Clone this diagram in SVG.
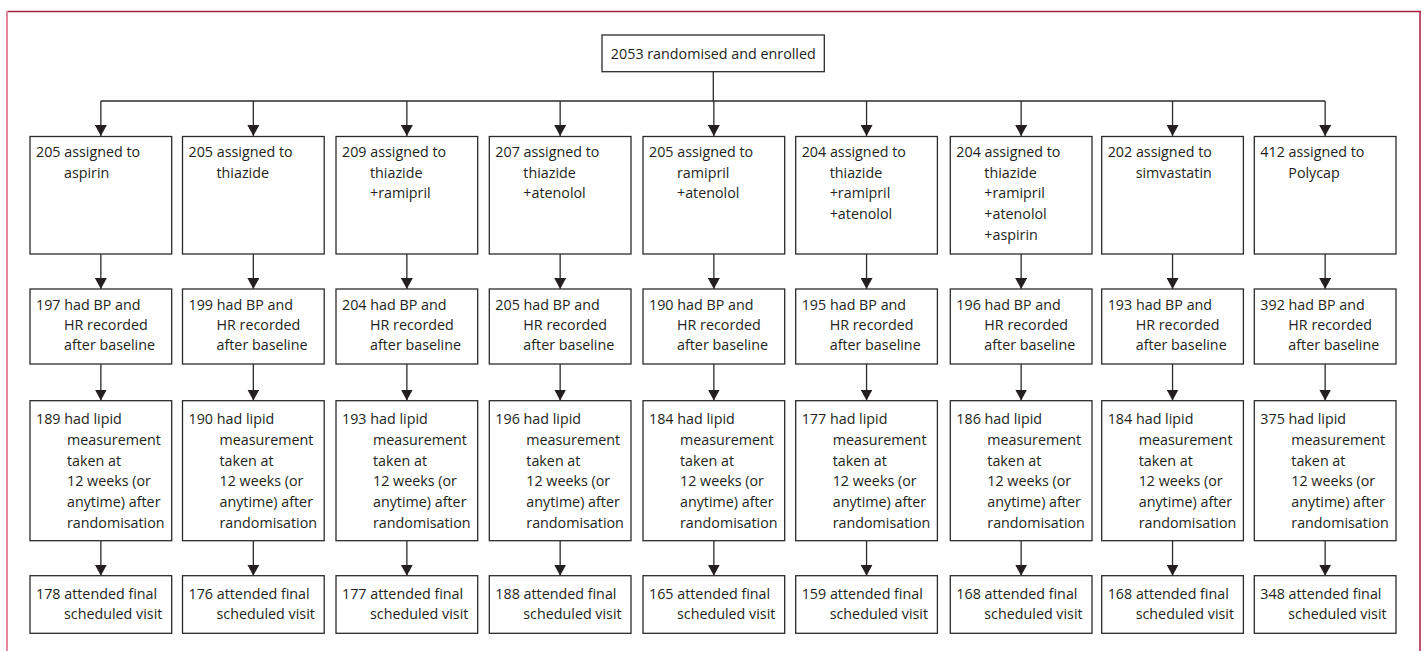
<svg xmlns="http://www.w3.org/2000/svg" width="1422" height="651" viewBox="0 0 1422 651">
<style>
.box{fill:#fff;stroke:#2b2b2b;stroke-width:1.3}
.t{font-family:"Open Sans","Liberation Sans",Arial,sans-serif;font-size:14.3px;fill:#231f20}
.c{fill:none;stroke:#2b2b2b;stroke-width:1.3}
</style>
<defs>
<marker id="ah" markerUnits="userSpaceOnUse" markerWidth="12" markerHeight="12" viewBox="0 0 12 12" refX="11" refY="6" orient="auto">
<path d="M0,0 L11,6 L0,12 z" fill="#231f20"/>
</marker>
</defs>
<rect width="1422" height="651" fill="#fff"/>
<g id="frame">
<line x1="7" y1="11.5" x2="1421" y2="11.5" stroke="#a3213f" stroke-width="1.5"/>
<line x1="7" y1="11" x2="7" y2="651" stroke="#e3879e" stroke-width="2"/>
<line x1="1420" y1="11" x2="1420" y2="651" stroke="#b5173f" stroke-width="1.5"/>
</g>
<g id="connectors">
<path class="c" d="M713.3,71.7 V101 M100.85,101 H1325.15"/>
<path class="c" marker-end="url(#ah)" d="M100.85,101 V136"/>
<path class="c" marker-end="url(#ah)" d="M253.35,101 V136"/>
<path class="c" marker-end="url(#ah)" d="M406.85,101 V136"/>
<path class="c" marker-end="url(#ah)" d="M560.15,101 V136"/>
<path class="c" marker-end="url(#ah)" d="M713.85,101 V136"/>
<path class="c" marker-end="url(#ah)" d="M866.55,101 V136"/>
<path class="c" marker-end="url(#ah)" d="M1021.15,101 V136"/>
<path class="c" marker-end="url(#ah)" d="M1172.55,101 V136"/>
<path class="c" marker-end="url(#ah)" d="M1325.15,101 V136"/>
<path class="c" marker-end="url(#ah)" d="M100.85,254 V289"/>
<path class="c" marker-end="url(#ah)" d="M253.35,254 V289"/>
<path class="c" marker-end="url(#ah)" d="M406.85,254 V289"/>
<path class="c" marker-end="url(#ah)" d="M560.15,254 V289"/>
<path class="c" marker-end="url(#ah)" d="M713.85,254 V289"/>
<path class="c" marker-end="url(#ah)" d="M866.55,254 V289"/>
<path class="c" marker-end="url(#ah)" d="M1021.15,254 V289"/>
<path class="c" marker-end="url(#ah)" d="M1172.55,254 V289"/>
<path class="c" marker-end="url(#ah)" d="M1325.15,254 V289"/>
<path class="c" marker-end="url(#ah)" d="M100.85,364 V400.5"/>
<path class="c" marker-end="url(#ah)" d="M253.35,364 V400.5"/>
<path class="c" marker-end="url(#ah)" d="M406.85,364 V400.5"/>
<path class="c" marker-end="url(#ah)" d="M560.15,364 V400.5"/>
<path class="c" marker-end="url(#ah)" d="M713.85,364 V400.5"/>
<path class="c" marker-end="url(#ah)" d="M866.55,364 V400.5"/>
<path class="c" marker-end="url(#ah)" d="M1021.15,364 V400.5"/>
<path class="c" marker-end="url(#ah)" d="M1172.55,364 V400.5"/>
<path class="c" marker-end="url(#ah)" d="M1325.15,364 V400.5"/>
<path class="c" marker-end="url(#ah)" d="M100.85,540.7 V575.7"/>
<path class="c" marker-end="url(#ah)" d="M253.35,540.7 V575.7"/>
<path class="c" marker-end="url(#ah)" d="M406.85,540.7 V575.7"/>
<path class="c" marker-end="url(#ah)" d="M560.15,540.7 V575.7"/>
<path class="c" marker-end="url(#ah)" d="M713.85,540.7 V575.7"/>
<path class="c" marker-end="url(#ah)" d="M866.55,540.7 V575.7"/>
<path class="c" marker-end="url(#ah)" d="M1021.15,540.7 V575.7"/>
<path class="c" marker-end="url(#ah)" d="M1172.55,540.7 V575.7"/>
<path class="c" marker-end="url(#ah)" d="M1325.15,540.7 V575.7"/>
</g>
<g id="enrolled"><rect class="box" x="602" y="35" width="222.3" height="36.7"/><text class="t" x="713.3" y="59.3" text-anchor="middle">2053 randomised and enrolled</text></g>

<g id="a1"><rect class="box" x="30" y="136.5" width="141.7" height="117.5"/><text class="t" x="36" y="156.7">205 assigned to<tspan x="64" dy="20.8">aspirin</tspan></text></g>
<g id="a2"><rect class="box" x="182.5" y="136.5" width="141.7" height="117.5"/><text class="t" x="188.5" y="156.7">205 assigned to<tspan x="216.5" dy="20.8">thiazide</tspan></text></g>
<g id="a3"><rect class="box" x="336" y="136.5" width="141.7" height="117.5"/><text class="t" x="342" y="156.7">209 assigned to<tspan x="370" dy="20.8">thiazide</tspan><tspan x="370" dy="20.8">+ramipril</tspan></text></g>
<g id="a4"><rect class="box" x="489.3" y="136.5" width="141.7" height="117.5"/><text class="t" x="495.3" y="156.7">207 assigned to<tspan x="523.3" dy="20.8">thiazide</tspan><tspan x="523.3" dy="20.8">+atenolol</tspan></text></g>
<g id="a5"><rect class="box" x="643" y="136.5" width="141.7" height="117.5"/><text class="t" x="649" y="156.7">205 assigned to<tspan x="677" dy="20.8">ramipril</tspan><tspan x="677" dy="20.8">+atenolol</tspan></text></g>
<g id="a6"><rect class="box" x="795.7" y="136.5" width="141.7" height="117.5"/><text class="t" x="801.7" y="156.7">204 assigned to<tspan x="829.7" dy="20.8">thiazide</tspan><tspan x="829.7" dy="20.8">+ramipril</tspan><tspan x="829.7" dy="20.8">+atenolol</tspan></text></g>
<g id="a7"><rect class="box" x="950.3" y="136.5" width="141.7" height="117.5"/><text class="t" x="956.3" y="156.7">204 assigned to<tspan x="984.3" dy="20.8">thiazide</tspan><tspan x="984.3" dy="20.8">+ramipril</tspan><tspan x="984.3" dy="20.8">+atenolol</tspan><tspan x="984.3" dy="20.8">+aspirin</tspan></text></g>
<g id="a8"><rect class="box" x="1101.7" y="136.5" width="141.7" height="117.5"/><text class="t" x="1107.7" y="156.7">202 assigned to<tspan x="1135.7" dy="20.8">simvastatin</tspan></text></g>
<g id="a9"><rect class="box" x="1254.3" y="136.5" width="141.7" height="117.5"/><text class="t" x="1260.3" y="156.7">412 assigned to<tspan x="1288.3" dy="20.8">Polycap</tspan></text></g>

<g id="b1"><rect class="box" x="30" y="289" width="141.7" height="75"/><text class="t" x="36" y="310">197 had BP and<tspan x="64" dy="20">HR recorded</tspan><tspan x="64" dy="20">after baseline</tspan></text></g>
<g id="b2"><rect class="box" x="182.5" y="289" width="141.7" height="75"/><text class="t" x="188.5" y="310">199 had BP and<tspan x="216.5" dy="20">HR recorded</tspan><tspan x="216.5" dy="20">after baseline</tspan></text></g>
<g id="b3"><rect class="box" x="336" y="289" width="141.7" height="75"/><text class="t" x="342" y="310">204 had BP and<tspan x="370" dy="20">HR recorded</tspan><tspan x="370" dy="20">after baseline</tspan></text></g>
<g id="b4"><rect class="box" x="489.3" y="289" width="141.7" height="75"/><text class="t" x="495.3" y="310">205 had BP and<tspan x="523.3" dy="20">HR recorded</tspan><tspan x="523.3" dy="20">after baseline</tspan></text></g>
<g id="b5"><rect class="box" x="643" y="289" width="141.7" height="75"/><text class="t" x="649" y="310">190 had BP and<tspan x="677" dy="20">HR recorded</tspan><tspan x="677" dy="20">after baseline</tspan></text></g>
<g id="b6"><rect class="box" x="795.7" y="289" width="141.7" height="75"/><text class="t" x="801.7" y="310">195 had BP and<tspan x="829.7" dy="20">HR recorded</tspan><tspan x="829.7" dy="20">after baseline</tspan></text></g>
<g id="b7"><rect class="box" x="950.3" y="289" width="141.7" height="75"/><text class="t" x="956.3" y="310">196 had BP and<tspan x="984.3" dy="20">HR recorded</tspan><tspan x="984.3" dy="20">after baseline</tspan></text></g>
<g id="b8"><rect class="box" x="1101.7" y="289" width="141.7" height="75"/><text class="t" x="1107.7" y="310">193 had BP and<tspan x="1135.7" dy="20">HR recorded</tspan><tspan x="1135.7" dy="20">after baseline</tspan></text></g>
<g id="b9"><rect class="box" x="1254.3" y="289" width="141.7" height="75"/><text class="t" x="1260.3" y="310">392 had BP and<tspan x="1288.3" dy="20">HR recorded</tspan><tspan x="1288.3" dy="20">after baseline</tspan></text></g>

<g id="c1"><rect class="box" x="30" y="400.7" width="141.7" height="140"/><text class="t" x="36" y="424">189 had lipid<tspan x="67" dy="20.8">measurement</tspan><tspan x="67" dy="20.8">taken at</tspan><tspan x="67" dy="20.8">12 weeks (or</tspan><tspan x="67" dy="20.8">anytime) after</tspan><tspan x="67" dy="20.8">randomisation</tspan></text></g>
<g id="c2"><rect class="box" x="182.5" y="400.7" width="141.7" height="140"/><text class="t" x="188.5" y="424">190 had lipid<tspan x="219.5" dy="20.8">measurement</tspan><tspan x="219.5" dy="20.8">taken at</tspan><tspan x="219.5" dy="20.8">12 weeks (or</tspan><tspan x="219.5" dy="20.8">anytime) after</tspan><tspan x="219.5" dy="20.8">randomisation</tspan></text></g>
<g id="c3"><rect class="box" x="336" y="400.7" width="141.7" height="140"/><text class="t" x="342" y="424">193 had lipid<tspan x="373" dy="20.8">measurement</tspan><tspan x="373" dy="20.8">taken at</tspan><tspan x="373" dy="20.8">12 weeks (or</tspan><tspan x="373" dy="20.8">anytime) after</tspan><tspan x="373" dy="20.8">randomisation</tspan></text></g>
<g id="c4"><rect class="box" x="489.3" y="400.7" width="141.7" height="140"/><text class="t" x="495.3" y="424">196 had lipid<tspan x="526.3" dy="20.8">measurement</tspan><tspan x="526.3" dy="20.8">taken at</tspan><tspan x="526.3" dy="20.8">12 weeks (or</tspan><tspan x="526.3" dy="20.8">anytime) after</tspan><tspan x="526.3" dy="20.8">randomisation</tspan></text></g>
<g id="c5"><rect class="box" x="643" y="400.7" width="141.7" height="140"/><text class="t" x="649" y="424">184 had lipid<tspan x="680" dy="20.8">measurement</tspan><tspan x="680" dy="20.8">taken at</tspan><tspan x="680" dy="20.8">12 weeks (or</tspan><tspan x="680" dy="20.8">anytime) after</tspan><tspan x="680" dy="20.8">randomisation</tspan></text></g>
<g id="c6"><rect class="box" x="795.7" y="400.7" width="141.7" height="140"/><text class="t" x="801.7" y="424">177 had lipid<tspan x="832.7" dy="20.8">measurement</tspan><tspan x="832.7" dy="20.8">taken at</tspan><tspan x="832.7" dy="20.8">12 weeks (or</tspan><tspan x="832.7" dy="20.8">anytime) after</tspan><tspan x="832.7" dy="20.8">randomisation</tspan></text></g>
<g id="c7"><rect class="box" x="950.3" y="400.7" width="141.7" height="140"/><text class="t" x="956.3" y="424">186 had lipid<tspan x="987.3" dy="20.8">measurement</tspan><tspan x="987.3" dy="20.8">taken at</tspan><tspan x="987.3" dy="20.8">12 weeks (or</tspan><tspan x="987.3" dy="20.8">anytime) after</tspan><tspan x="987.3" dy="20.8">randomisation</tspan></text></g>
<g id="c8"><rect class="box" x="1101.7" y="400.7" width="141.7" height="140"/><text class="t" x="1107.7" y="424">184 had lipid<tspan x="1138.7" dy="20.8">measurement</tspan><tspan x="1138.7" dy="20.8">taken at</tspan><tspan x="1138.7" dy="20.8">12 weeks (or</tspan><tspan x="1138.7" dy="20.8">anytime) after</tspan><tspan x="1138.7" dy="20.8">randomisation</tspan></text></g>
<g id="c9"><rect class="box" x="1254.3" y="400.7" width="141.7" height="140"/><text class="t" x="1260.3" y="424">375 had lipid<tspan x="1291.3" dy="20.8">measurement</tspan><tspan x="1291.3" dy="20.8">taken at</tspan><tspan x="1291.3" dy="20.8">12 weeks (or</tspan><tspan x="1291.3" dy="20.8">anytime) after</tspan><tspan x="1291.3" dy="20.8">randomisation</tspan></text></g>

<g id="d1"><rect class="box" x="30" y="575.7" width="141.7" height="57.6"/><text class="t" x="36" y="599.3">178 attended final<tspan x="64" dy="20">scheduled visit</tspan></text></g>
<g id="d2"><rect class="box" x="182.5" y="575.7" width="141.7" height="57.6"/><text class="t" x="188.5" y="599.3">176 attended final<tspan x="216.5" dy="20">scheduled visit</tspan></text></g>
<g id="d3"><rect class="box" x="336" y="575.7" width="141.7" height="57.6"/><text class="t" x="342" y="599.3">177 attended final<tspan x="370" dy="20">scheduled visit</tspan></text></g>
<g id="d4"><rect class="box" x="489.3" y="575.7" width="141.7" height="57.6"/><text class="t" x="495.3" y="599.3">188 attended final<tspan x="523.3" dy="20">scheduled visit</tspan></text></g>
<g id="d5"><rect class="box" x="643" y="575.7" width="141.7" height="57.6"/><text class="t" x="649" y="599.3">165 attended final<tspan x="677" dy="20">scheduled visit</tspan></text></g>
<g id="d6"><rect class="box" x="795.7" y="575.7" width="141.7" height="57.6"/><text class="t" x="801.7" y="599.3">159 attended final<tspan x="829.7" dy="20">scheduled visit</tspan></text></g>
<g id="d7"><rect class="box" x="950.3" y="575.7" width="141.7" height="57.6"/><text class="t" x="956.3" y="599.3">168 attended final<tspan x="984.3" dy="20">scheduled visit</tspan></text></g>
<g id="d8"><rect class="box" x="1101.7" y="575.7" width="141.7" height="57.6"/><text class="t" x="1107.7" y="599.3">168 attended final<tspan x="1135.7" dy="20">scheduled visit</tspan></text></g>
<g id="d9"><rect class="box" x="1254.3" y="575.7" width="141.7" height="57.6"/><text class="t" x="1260.3" y="599.3">348 attended final<tspan x="1288.3" dy="20">scheduled visit</tspan></text></g>
</svg>
